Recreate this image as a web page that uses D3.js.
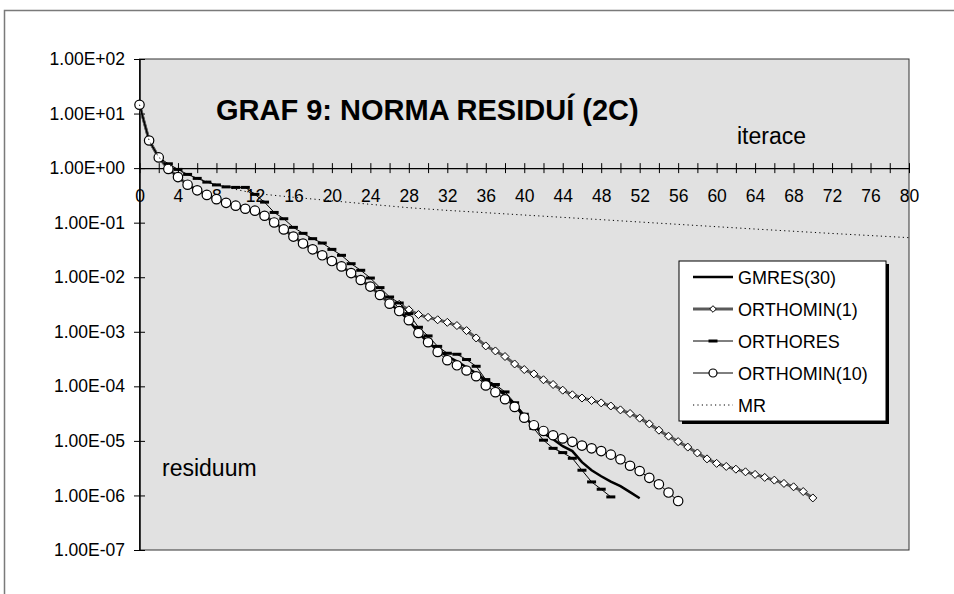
<!DOCTYPE html>
<html lang="cs">
<head>
<meta charset="UTF-8">
<title>Graf 9</title>
<script src="https://cdn.jsdelivr.net/npm/d3@7"></script>
<style>
  body { margin: 0; background: #fff; }
  text { font-family: Arial, "Liberation Sans", sans-serif; fill: #000; }
</style>
</head>
<body>
<script>

var w = 954, h = 594;
var pl = 139.5, pr = 909, pt = 59, pb = 550;

// tick values and labels
var yTicks = [1e2, 1e1, 1e0, 1e-1, 1e-2, 1e-3, 1e-4, 1e-5, 1e-6, 1e-7];
var yTickLabels = ["1.00E+02", "1.00E+01", "1.00E+00", "1.00E-01", "1.00E-02",
                   "1.00E-03", "1.00E-04", "1.00E-05", "1.00E-06", "1.00E-07"];
var xTicks = d3.range(0, 81, 2);

// residual norms, one value per iteration starting at 0
var gmres = [14.5, 3.21, 1.57, 0.966, 0.684, 0.497, 0.391, 0.323, 0.270, 0.231,
  0.205, 0.180, 0.166, 0.134, 0.101, 0.0753, 0.0555, 0.0414, 0.0324, 0.0252,
  0.0198, 0.0158, 0.0119, 0.00889, 0.00673, 0.00472, 0.00328, 0.00240, 0.00163, 9.5e-4,
  6.43e-4, 4.58e-4, 3.56e-4, 2.88e-4, 2.24e-4, 1.74e-4, 1.29e-4, 9.6e-5, 6.9e-5, 4.7e-5,
  2.83e-5, 1.82e-5, 1.38e-5, 1.07e-5, 8.0e-6, 6.5e-6, 4.07e-6, 2.90e-6, 2.25e-6, 1.79e-6,
  1.48e-6, 1.15e-6, 8.9e-7];

var orthomin1 = [14.5, 3.21, 1.57, 0.966, 0.684, 0.497, 0.391, 0.323, 0.270, 0.231,
  0.205, 0.180, 0.166, 0.134, 0.101, 0.0753, 0.0555, 0.0414, 0.0324, 0.0252,
  0.0198, 0.0158, 0.0119, 0.00889, 0.00673, 0.00472, 0.00328, 3.19e-3, 2.53e-3, 2.07e-3,
  1.84e-3, 1.66e-3, 1.49e-3, 1.30e-3, 1.05e-3, 7.7e-4, 5.5e-4, 4.45e-4, 3.52e-4, 2.57e-4,
  2.03e-4, 1.69e-4, 1.32e-4, 1.08e-4, 8.5e-5, 7.0e-5, 6.1e-5, 5.5e-5, 4.97e-5, 4.36e-5,
  3.70e-5, 3.18e-5, 2.61e-5, 2.05e-5, 1.57e-5, 1.22e-5, 9.7e-6, 7.7e-6, 6.0e-6, 4.68e-6,
  3.87e-6, 3.40e-6, 3.03e-6, 2.71e-6, 2.43e-6, 2.14e-6, 1.91e-6, 1.66e-6, 1.44e-6, 1.18e-6,
  9.0e-7];

var orthores = [14.5, 3.21, 1.57, 1.20, 0.947, 0.767, 0.648, 0.554, 0.492, 0.453,
  0.443, 0.443, 0.330, 0.238, 0.154, 0.118, 0.0820, 0.0637, 0.0509, 0.0423,
  0.0324, 0.0252, 0.0177, 0.0134, 0.00966, 0.00645, 0.00434, 0.00337, 0.00215, 0.00121,
  8.4e-4, 5.4e-4, 4.04e-4, 3.87e-4, 3.10e-4, 2.33e-4, 1.33e-4, 1.08e-4, 7.9e-5, 5.0e-5,
  3.08e-5, 1.69e-5, 1.03e-5, 7.3e-6, 6.1e-6, 4.8e-6, 2.9e-6, 1.77e-6, 1.30e-6, 9.4e-7];

var orthomin10 = [14.5, 3.21, 1.57, 0.966, 0.684, 0.497, 0.391, 0.323, 0.270, 0.231,
  0.205, 0.180, 0.166, 0.134, 0.101, 0.0753, 0.0555, 0.0414, 0.0324, 0.0252,
  0.0198, 0.0158, 0.0119, 0.00889, 0.00673, 0.00472, 0.00328, 0.00240, 0.00163, 9.5e-4,
  6.43e-4, 4.27e-4, 3.01e-4, 2.43e-4, 1.95e-4, 1.53e-4, 1.04e-4, 7.8e-5, 5.8e-5, 4.2e-5,
  2.66e-5, 1.94e-5, 1.52e-5, 1.27e-5, 1.11e-5, 9.6e-6, 8.2e-6, 7.3e-6, 6.5e-6, 5.6e-6,
  4.6e-6, 3.5e-6, 2.8e-6, 2.1e-6, 1.6e-6, 1.13e-6, 7.9e-7];

// MR is only readable at a few iterations (dotted line, no markers)
var mrIter = [0, 1, 2, 3, 4, 6, 8, 10, 12, 16, 20, 24, 28, 32, 40, 48, 56, 64, 72, 80];
var mr = [14.5, 3.21, 1.57, 1.17, 0.908, 0.648, 0.503, 0.407, 0.344, 0.292,
  0.252, 0.217, 0.188, 0.168, 0.138, 0.1135, 0.0931, 0.0764, 0.0634, 0.0531];

var names = ["GMRES(30)", "ORTHOMIN(1)", "ORTHORES", "ORTHOMIN(10)", "MR"];

var series = [
  { name: names[0], pts: gmres.map(function(v, i){ return [i, v]; }),
    stroke: '#000', sw: 2.5, dash: null, marker: null },
  { name: names[1], pts: orthomin1.map(function(v, i){ return [i, v]; }),
    stroke: '#5a5a5a', sw: 3, dash: null, marker: 'diamond' },
  { name: names[2], pts: orthores.map(function(v, i){ return [i, v]; }),
    stroke: '#000', sw: 1, dash: null, marker: 'dash' },
  { name: names[3], pts: orthomin10.map(function(v, i){ return [i, v]; }),
    stroke: '#000', sw: 1, dash: null, marker: 'circle' },
  { name: names[4], pts: mr.map(function(v, i){ return [mrIter[i], v]; }),
    stroke: '#000', sw: 1, dash: '1.2,3.2', marker: null }
];

var svg = d3.select('body').append('svg').attr('width', w).attr('height', h);

// chart frame, it runs off the page on the right and bottom
svg.append('rect').attr('x', 4.5).attr('y', 10.5).attr('width', 1000).attr('height', 1000)
  .attr('fill', '#fff').attr('stroke', '#7a7a7a').attr('stroke-width', 1.5);

var x = d3.scaleLinear().domain([0, 80]).range([pl, pr]);
var y = d3.scaleLog().domain([1e-7, 1e2]).range([pb, pt]);

// plot area
svg.append('rect').attr('x', pl).attr('y', pt).attr('width', pr - pl).attr('height', pb - pt)
  .attr('fill', '#e1e1e1').attr('stroke', '#333').attr('stroke-width', 1);

// y axis
var yAxis = svg.append('g').attr('transform', 'translate(' + pl + ',0)')
  .call(d3.axisLeft(y).tickValues(yTicks)
    .tickFormat(function(d, i){ return yTickLabels[i]; })
    .tickSize(5.5).tickPadding(9).tickSizeOuter(0));
yAxis.selectAll('.tick line').attr('x1', 5.5).attr('stroke', '#000');
yAxis.select('.domain').attr('stroke', '#000').attr('stroke-width', 1.5);
yAxis.selectAll('text').attr('font-size', 17.5).attr('font-family', 'Arial, "Liberation Sans", sans-serif');

// x axis sits on 1.00E+00
var xAxis = svg.append('g').attr('transform', 'translate(0,' + y(1) + ')')
  .call(d3.axisBottom(x).tickValues(xTicks)
    .tickFormat(function(d){ return d % 4 === 0 ? d : ''; })
    .tickSize(5).tickPadding(16).tickSizeOuter(0));
xAxis.selectAll('.tick line').attr('y1', -5).attr('stroke', '#000');
xAxis.select('.domain').attr('stroke', '#000').attr('stroke-width', 1.2);
xAxis.selectAll('text').attr('font-size', 17.5).attr('font-family', 'Arial, "Liberation Sans", sans-serif');

var line = d3.line()
  .x(function(d){ return x(d[0]); })
  .y(function(d){ return y(d[1]); });

var diamond = 'M0,-4L4,0L0,4L-4,0Z';

function drawMarkers(g, s, pts) {
  if (s.marker === 'circle') {
    g.selectAll('circle').data(pts).enter().append('circle')
      .attr('cx', function(d){ return x(d[0]); })
      .attr('cy', function(d){ return y(d[1]); })
      .attr('r', 4.7).attr('fill', '#fff').attr('stroke', '#000').attr('stroke-width', 1.2);
  } else if (s.marker === 'diamond') {
    g.selectAll('path.m').data(pts).enter().append('path').attr('class', 'm')
      .attr('d', diamond)
      .attr('transform', function(d){ return 'translate(' + x(d[0]) + ',' + y(d[1]) + ')'; })
      .attr('fill', '#fff').attr('stroke', '#000').attr('stroke-width', 1);
  } else if (s.marker === 'dash') {
    g.selectAll('rect').data(pts).enter().append('rect')
      .attr('x', function(d){ return x(d[0]) - 4.5; })
      .attr('y', function(d){ return y(d[1]) - 1.5; })
      .attr('width', 9).attr('height', 3).attr('fill', '#000');
  }
}

series.forEach(function(s){
  var g = svg.append('g');
  g.append('path').datum(s.pts).attr('d', line)
    .attr('fill', 'none').attr('stroke', s.stroke).attr('stroke-width', s.sw)
    .attr('stroke-dasharray', s.dash);
  drawMarkers(g, s, s.pts);
});

// titles
svg.append('text').attr('x', 216).attr('y', 120).attr('font-size', 29)
  .attr('font-weight', 'bold').text('GRAF 9: NORMA RESIDUÍ (2C)');
svg.append('text').attr('x', 737).attr('y', 144).attr('font-size', 23).text('iterace');
svg.append('text').attr('x', 162).attr('y', 476).attr('font-size', 23).text('residuum');

// legend
var lx = 679, ly = 261, lw = 207, lh = 160;
svg.append('rect').attr('x', lx + 3).attr('y', ly + 3).attr('width', lw).attr('height', lh).attr('fill', '#000');
svg.append('rect').attr('x', lx).attr('y', ly).attr('width', lw).attr('height', lh)
  .attr('fill', '#fff').attr('stroke', '#000').attr('stroke-width', 1);

series.forEach(function(s, i){
  var cy = ly + 16 + i * 32;
  var g = svg.append('g');
  g.append('line').attr('x1', lx + 14).attr('x2', lx + 54).attr('y1', cy).attr('y2', cy)
    .attr('stroke', s.stroke).attr('stroke-width', s.sw).attr('stroke-dasharray', s.dash);
  var mk = g.append('g');
  if (s.marker === 'circle') {
    mk.append('circle').attr('cx', lx + 34).attr('cy', cy).attr('r', 4)
      .attr('fill', '#fff').attr('stroke', '#000').attr('stroke-width', 1.2);
  } else if (s.marker === 'diamond') {
    mk.append('path').attr('d', 'M0,-3.3L3.3,0L0,3.3L-3.3,0Z').attr('transform', 'translate(' + (lx + 34) + ',' + cy + ')')
      .attr('fill', '#fff').attr('stroke', '#000');
  } else if (s.marker === 'dash') {
    mk.append('rect').attr('x', lx + 29.5).attr('y', cy - 1.5).attr('width', 9).attr('height', 3).attr('fill', '#000');
  }
  g.append('text').attr('x', lx + 59).attr('y', cy + 6.5).attr('font-size', 18).text(s.name);
});

</script>
</body>
</html>
